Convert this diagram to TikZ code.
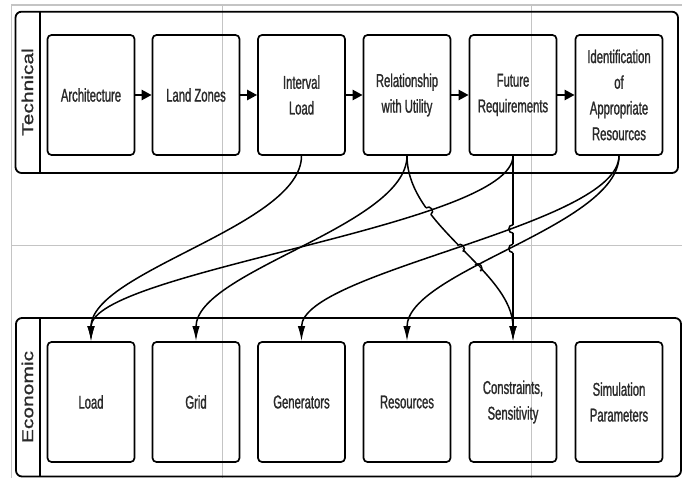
\documentclass[tikz,border=0pt]{standalone}
\usepackage{graphicx}
\usepackage{fontspec}
\setmainfont{Liberation Sans}
\newfontfamily\boxfont[FakeStretch=0.61,FakeBold=1.2]{Liberation Sans}
\newfontfamily\lanefont[FakeBold=1.0]{Liberation Sans}
\usetikzlibrary{arrows.meta,intersections,calc}
\definecolor{txtgray}{HTML}{2A2A2A}
\definecolor{gridgray}{HTML}{C4C4C4}
\newcommand\hopover[5]{%
  \path[name intersections={of=#1 and #2, by={hx#5}}];
  \path[name path=hc#5] (hx#5) circle[radius=4.2pt];
  \path[name intersections={of=#1 and hc#5, sort by=#1, by={ha#5,hb#5}}];
  \draw[white, line width=3.6pt] (ha#5) -- (hb#5);
  \draw[link] (ha#5) .. controls ($(ha#5)!5.6pt!#3:(hb#5)$) and ($(hb#5)!5.6pt!#4:(ha#5)$) .. (hb#5);
}
\begin{document}
\begin{tikzpicture}[x=1pt,y=-1pt,
  stage/.style={draw=black,line width=1.7pt,rounded corners=4pt,minimum width=87pt,minimum height=120pt,inner sep=0pt,align=center,text=txtgray,font=\boxfont\fontsize{18.5}{25.7}\selectfont},
  band/.style={draw=black,line width=1.8pt,rounded corners=6pt,inner sep=0pt},
  lane/.style={text=txtgray,font=\lanefont\fontsize{21}{21}\selectfont,rotate=90,inner sep=0pt},
  flow/.style={line width=2.3pt,-{Triangle[length=10pt,width=10pt]}},
  link/.style={line width=1.5pt},
  linkarrow/.style={link,-{Latex[length=15pt,width=7.5pt]}},
  guide/.style={draw=gridgray,line width=1pt}]
\useasboundingbox (0,0) rectangle (682,478);
% page guides
\draw[guide,line width=2pt] (11,5.5) -- (682,5.5);
\draw[guide,line width=1.5pt] (11.5,5.5) -- (11.5,478);
\draw[guide] (222.5,5.5) -- (222.5,478);
\draw[guide] (531.5,5.5) -- (531.5,478);
\draw[guide] (11.5,246) -- (682,246);
% bands
\node[band,minimum width=662.5pt,minimum height=161.3pt] (tech) at (346.75,92.35) {};
\node[band,minimum width=665pt,minimum height=158.5pt] (econ) at (348.5,397.25) {};
\draw[line width=1.6pt] ([xshift=25.5pt]tech.north west) -- ([xshift=25.5pt]tech.south west);
\draw[line width=1.6pt] ([xshift=25pt]econ.north west) -- ([xshift=25pt]econ.south west);
\node[lane] (techlab) at (27.5,92) {\scalebox{1}[0.75]{Technical}};
\node[lane] (econlab) at (27.5,397) {\scalebox{1}[0.75]{Economic}};
% technical stages
\node[stage] (t1) at (91,95) {Architecture};
\node[stage] (t2) at (196,95) {Land Zones};
\node[stage] (t3) at (301.5,95) {Interval\\Load};
\node[stage] (t4) at (407,95) {Relationship\\with Utility};
\node[stage] (t5) at (513,95) {Future\\Requirements};
\node[stage] (t6) at (619,95) {Identification\\of\\Appropriate\\Resources};
% economic stages
\node[stage] (b1) at (91,402) {Load};
\node[stage] (b2) at (196,402) {Grid};
\node[stage] (b3) at (301.5,402) {Generators};
\node[stage] (b4) at (407,402) {Resources};
\node[stage] (b5) at (513,402) {Constraints,\\Sensitivity};
\node[stage] (b6) at (619,402) {Simulation\\Parameters};
% flow arrows
\draw[flow] (t1) -- (t2);
\draw[flow] (t2) -- (t3);
\draw[flow] (t3) -- (t4);
\draw[flow] (t4) -- (t5);
\draw[flow] (t5) -- (t6);
% hopping connectors
\draw[linkarrow,name path=C] (t4.south) .. controls ($(t4.south)+(0,70)$) and ($(b5.north)+(0,-70)$) .. (b5.north);
\draw[linkarrow,name path=D] (t5.south) -- (b5.north);
\path[name path=E] (t5.south) .. controls ($(t5.south)+(0,70)$) and ($(b1.north)+(0,-70)$) .. (b1.north);
\path[name path=F] (t6.south) .. controls ($(t6.south)+(0,70)$) and ($(b3.north)+(0,-70)$) .. (b3.north);
\path[name path=G] (t6.south) .. controls ($(t6.south)+(0,70)$) and ($(b4.north)+(0,-70)$) .. (b4.north);
\hopover{C}{E}{90}{-90}{1}
\hopover{C}{F}{90}{-90}{2}
\hopover{C}{G}{90}{-90}{3}
\hopover{D}{F}{-90}{90}{4}
\hopover{D}{G}{-90}{90}{5}
% other connectors
\draw[linkarrow] (t3.south) .. controls ($(t3.south)+(0,70)$) and ($(b1.north)+(0,-70)$) .. (b1.north);
\draw[linkarrow] (t4.south) .. controls ($(t4.south)+(0,70)$) and ($(b2.north)+(0,-70)$) .. (b2.north);
\draw[linkarrow] (t5.south) .. controls ($(t5.south)+(0,70)$) and ($(b1.north)+(0,-70)$) .. (b1.north);
\draw[linkarrow] (t6.south) .. controls ($(t6.south)+(0,70)$) and ($(b3.north)+(0,-70)$) .. (b3.north);
\draw[linkarrow] (t6.south) .. controls ($(t6.south)+(0,70)$) and ($(b4.north)+(0,-70)$) .. (b4.north);
\end{tikzpicture}
\end{document}
